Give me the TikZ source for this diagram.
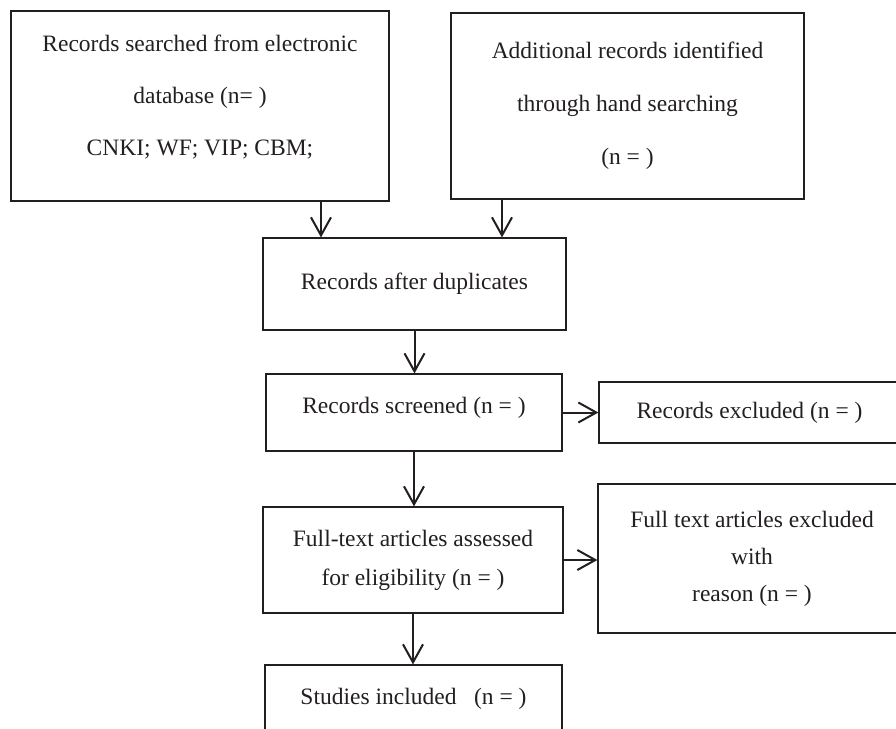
\documentclass[tikz,border=0pt]{standalone}
\usepackage{fontspec}
\setmainfont{Liberation Serif}
\usetikzlibrary{arrows.meta}
\definecolor{inkgray}{HTML}{231F20}

\begin{document}
\begin{tikzpicture}[x=0.5pt, y=-0.5pt, >={Straight Barb[length=9pt, width=10pt]}]
    % Define styles
    \tikzstyle{stage} = [draw=inkgray, line width=0.6pt, rectangle, inner sep=0pt, align=center, text=inkgray, font=\fontsize{11.75}{18.5}\selectfont]
    \tikzstyle{flow} = [->, line width=1pt, draw=inkgray]

    \clip (0,0) rectangle (896,729);

    % Nodes
    \node[stage, minimum width=189pt, minimum height=95pt, text depth=11pt] (search) at (200,106) {Records searched from electronic\\[7.5pt]database (n= )\\[7.5pt]CNKI; WF; VIP; CBM;};
    \node[stage, minimum width=176.5pt, minimum height=93pt] (hand) at (627.5,106) {Additional records identified\\[8pt]through hand searching\\[8pt](n = )};
    \node[stage, minimum width=151.5pt, minimum height=46pt] (dup) at (414.5,284) {Records after duplicates};
    \node[stage, minimum width=148pt, minimum height=38.5pt, text depth=7.5pt] (screen) at (414,412.5) {Records screened (n = )};
    \node[stage, minimum width=150.5pt, minimum height=30.5pt] (excl) at (749.5,412.5) {Records excluded (n = )};
    \node[stage, minimum width=150pt, minimum height=53pt] (fulltext) at (413,560) {Full-text articles assessed\\[1pt]for eligibility (n = )};
    \node[stage, minimum width=154pt, minimum height=74.5pt] (ftexcl) at (752,558.5) {Full text articles excluded\\with\\reason (n = )};
    \node[stage, minimum width=148.5pt, minimum height=38.5pt, text depth=7pt] (incl) at (413.5,703.5) {Studies included\ \ \ (n = )};

    % Flow arrows
    \draw[flow] ([xshift=60.5pt]search.south) -- ([xshift=60.5pt]search.south |- dup.north);
    \draw[flow] ([xshift=-62.75pt]hand.south) -- ([xshift=-62.75pt]hand.south |- dup.north);
    \draw[flow] (dup.south) -- (dup.south |- screen.north);
    \draw[flow] (screen) -- (excl);
    \draw[flow] (screen.south) -- (screen.south |- fulltext.north);
    \draw[flow] (fulltext.east) -- (fulltext.east -| ftexcl.west);
    \draw[flow] (fulltext.south) -- (fulltext.south |- incl.north);
\end{tikzpicture}
\end{document}
